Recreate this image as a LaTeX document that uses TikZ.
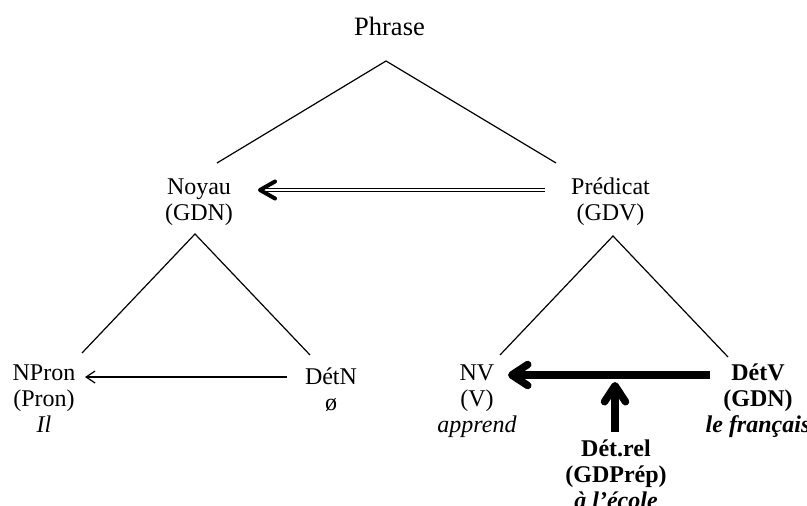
\documentclass[tikz,border=0pt]{standalone}
\usepackage{fontspec}
\setmainfont{Liberation Serif}
\usetikzlibrary{arrows.meta}
\newcommand\stk[1]{\begin{tabular}[t]{@{}c@{}}#1\end{tabular}}
\begin{document}
\begin{tikzpicture}[x=1pt,y=-1pt,
  lbl/.style={inner sep=0pt, anchor=base, font=\fontsize{24}{26}\selectfont},
  branch/.style={line width=1.2pt},
  dblarrow/.style={double, double distance=2.4pt, line width=1pt,
    -{Straight Barb[length=15pt, width=17pt, line width=4pt, round]}},
  thinarrow/.style={line width=1.2pt, -{Straight Barb[length=9pt, width=12pt]}},
  thickarrow/.style={line width=8pt, -{Straight Barb[length=16pt, width=21pt, line width=7.5pt, round]}}]
\useasboundingbox (0,0) rectangle (807,506);
% labels
\node[lbl, font=\fontsize{26.5}{28}\selectfont] (phrase) at (389.5,35) {Phrase};
\node[lbl] (noyau) at (199,194) {\stk{Noyau\\(GDN)}};
\node[lbl] (pred) at (610.5,194) {\stk{Prédicat\\(GDV)}};
\node[lbl] (npron) at (44,380) {\stk{NPron\\(Pron)\\\textit{Il}}};
\node[lbl] (detn) at (331,384) {\stk{DétN\\ø}};
\node[lbl] (nv) at (477,380) {\stk{NV\\(V)\\\textit{apprend}}};
\node[lbl] (detv) at (758,380) {\stk{\textbf{DétV}\\\textbf{(GDN)}\\\textbf{\textit{le français}}}};
\node[lbl] (detrel) at (616,456) {\stk{\textbf{Dét.rel}\\\textbf{(GDPrép)}\\\textbf{\textit{à l’école}}}};
% branch points
\coordinate (pA) at (386,61);
\coordinate (pL) at (217,163);
\coordinate (pR) at (556,163);
\coordinate (nA) at (195,234);
\coordinate (nL) at (82,353);
\coordinate (nR) at (310,355);
\coordinate (vA) at (613,236);
\coordinate (vL) at (500,355);
\coordinate (vR) at (728,357);
\draw[branch] (pL) -- (pA) -- (pR);
\draw[branch] (nL) -- (nA) -- (nR);
\draw[branch] (vL) -- (vA) -- (vR);
% arrows
\coordinate (d1) at (545,190);
\coordinate (d2) at (258,190);
\coordinate (t1) at (287,377);
\coordinate (t2) at (85,377);
\coordinate (k1) at (710,375);
\coordinate (k2) at (508,375);
\coordinate (r1) at (615,432);
\coordinate (r2) at (615,382);
\draw[dblarrow] (d1) -- (d2);
\draw[thinarrow] (t1) -- (t2);
\draw[thickarrow] (k1) -- (k2);
\draw[thickarrow] (r1) -- (r2);
\end{tikzpicture}
\end{document}
